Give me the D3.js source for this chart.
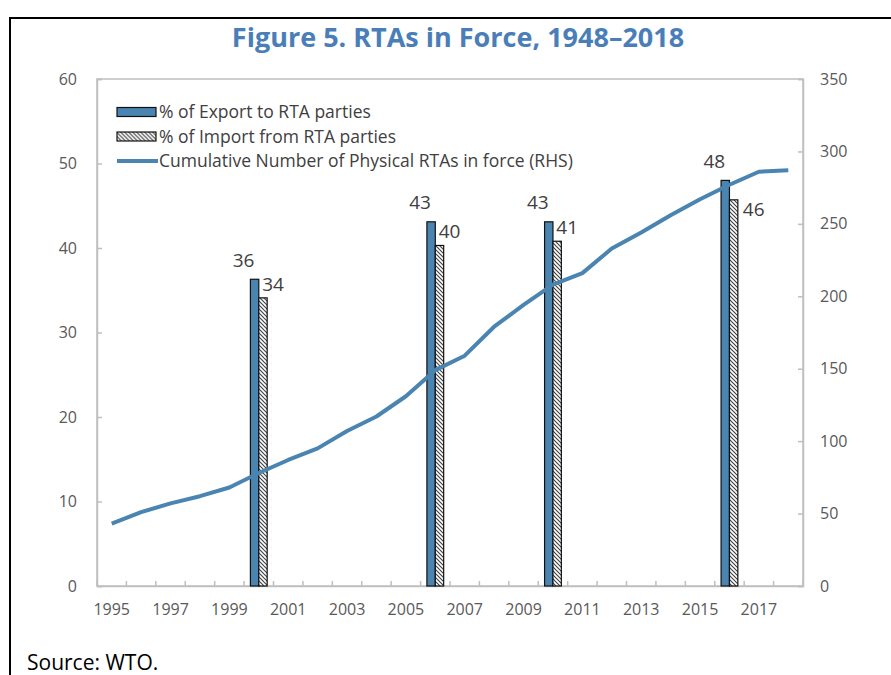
<!DOCTYPE html>
<html>
<head>
<meta charset="utf-8">
<script src="https://cdn.jsdelivr.net/npm/d3@7"></script>
<style>
  body { margin: 0; background: #fff; }
  text { font-family: "Open Sans", "Noto Sans", sans-serif; }
</style>
</head>
<body>
<div id="chart"></div>
<script>
// data
const years = d3.range(1995, 2019).map(String)
const barYears = ["2000", "2006", "2010", "2016"]
const exportShare = [36.3, 43.1, 43.1, 48.0]
const importShare = [34.1, 40.3, 40.8, 45.7]
const exportLabels = ["36", "43", "43", "48"]
const importLabels = ["34", "40", "41", "46"]
const cumulativeRTAs = [43, 51, 57, 62, 68, 78, 87, 95, 107, 117, 131, 149,
                        159, 179, 194, 208, 216, 233, 244, 256, 267, 277, 286, 287]
const leftTicks = [0, 10, 20, 30, 40, 50, 60]
const rightTicks = [0, 50, 100, 150, 200, 250, 300, 350]

const W = 891, H = 675
const margin = {top: 79, right: 88, bottom: 89, left: 97}
const width = W - margin.left - margin.right
const height = H - margin.top - margin.bottom

const blue = "#4a84b0"
const axisGrey = "#bfbfbf"
const tickText = "#595959"

const svg = d3.select("#chart").append("svg")
    .attr("width", W)
    .attr("height", H)

// hatch for the import bars
const defs = svg.append("defs")
const pat = defs.append("pattern")
    .attr("id", "hatch")
    .attr("patternUnits", "userSpaceOnUse")
    .attr("width", 4)
    .attr("height", 4)
pat.append("rect").attr("width", 4).attr("height", 4).attr("fill", "#fff")
pat.append("path")
    .attr("d", "M-1,-1 L5,5 M-1,3 L1,5 M3,-1 L5,1")
    .attr("stroke", "#444")
    .attr("stroke-width", 1.2)

// outer frame (only left and top edges visible)
svg.append("rect")
    .attr("x", 10).attr("y", 18)
    .attr("width", W + 20).attr("height", H + 20)
    .attr("fill", "none")
    .attr("stroke", "#000")
    .attr("stroke-width", 2)

svg.append("text")
    .attr("x", 458)
    .attr("y", 47)
    .attr("text-anchor", "middle")
    .attr("font-size", 27)
    .attr("font-weight", 700)
    .attr("fill", "#4a7eb8")
    .text("Figure 5. RTAs in Force, 1948\u20132018")

const g = svg.append("g")
    .attr("transform", `translate(${margin.left}, ${margin.top})`)

//Escalas
const x = d3.scaleBand()
    .domain(years)
    .range([0, width])
    .padding(0)

const yL = d3.scaleLinear().domain([0, 60]).range([height, 0])
const yR = d3.scaleLinear().domain([0, 350]).range([height, 0])

// plot frame
g.append("rect")
    .attr("width", width)
    .attr("height", height)
    .attr("fill", "none")
    .attr("stroke", axisGrey)
    .attr("stroke-width", 1.5)

//Ejes
const left = g.append("g")
    .call(d3.axisLeft(yL).tickValues(leftTicks).tickSize(-5).tickPadding(20))
const right = g.append("g")
    .attr("transform", `translate(${width}, 0)`)
    .call(d3.axisRight(yR).tickValues(rightTicks).tickSize(-5).tickPadding(17))
const bottom = g.append("g")
    .attr("transform", `translate(0, ${height})`)
    .call(d3.axisBottom(x).tickSize(0).tickPadding(18)
        .tickFormat(d => (+d % 2 === 1) ? d : ""))

;[left, right, bottom].forEach(ax => {
    ax.select(".domain").attr("stroke", axisGrey).attr("stroke-width", 1.5)
    ax.selectAll(".tick line").attr("stroke", axisGrey).attr("stroke-width", 1.5)
    ax.selectAll("text").attr("font-size", 16).attr("fill", tickText)
        .attr("font-family", "'Open Sans', sans-serif")
})

// category boundary ticks on the x axis
g.append("g").selectAll("line")
    .data(years.concat(["end"]))
    .enter()
    .append("line")
    .attr("x1", d => d === "end" ? width : x(d))
    .attr("x2", d => d === "end" ? width : x(d))
    .attr("y1", height)
    .attr("y2", height - 5)
    .attr("stroke", axisGrey)
    .attr("stroke-width", 1.5)

//Barras
const barW = x.bandwidth() * 0.285
const bars = barYears.map((yr, i) => ({
    year: yr, exp: exportShare[i], imp: importShare[i],
    expLabel: exportLabels[i], impLabel: importLabels[i]
}))

g.selectAll("rect.exp")
    .data(bars)
    .enter()
    .append("rect")
    .attr("class", "exp")
    .attr("x", d => x(d.year) + x.bandwidth() / 2 - barW)
    .attr("y", d => yL(d.exp))
    .attr("width", barW)
    .attr("height", d => height - yL(d.exp))
    .attr("fill", blue)
    .attr("stroke", "#111")
    .attr("stroke-width", 1.2)

g.selectAll("rect.imp")
    .data(bars)
    .enter()
    .append("rect")
    .attr("class", "imp")
    .attr("x", d => x(d.year) + x.bandwidth() / 2)
    .attr("y", d => yL(d.imp))
    .attr("width", barW)
    .attr("height", d => height - yL(d.imp))
    .attr("fill", "url(#hatch)")
    .attr("stroke", "#111")
    .attr("stroke-width", 1.2)

// linea acumulada
const line = d3.line()
    .x((d, i) => x(years[i]) + x.bandwidth() / 2)
    .y(d => yR(d))

g.append("path")
    .datum(cumulativeRTAs)
    .attr("d", line)
    .attr("fill", "none")
    .attr("stroke", blue)
    .attr("stroke-width", 4)
    .attr("stroke-linejoin", "round")

//Etiquetas
g.selectAll("text.expLabel")
    .data(bars)
    .enter()
    .append("text")
    .attr("class", "expLabel")
    .attr("x", d => x(d.year) + x.bandwidth() / 2 - barW / 2 - 11)
    .attr("y", d => yL(d.exp) - 19)
    .attr("dy", "0.35em")
    .attr("text-anchor", "middle")
    .attr("font-size", 19)
    .attr("fill", "#404040")
    .text(d => d.expLabel)

// last import label sits beside the bar, below the line
g.selectAll("text.impLabel")
    .data(bars)
    .enter()
    .append("text")
    .attr("class", "impLabel")
    .attr("x", (d, i) => x(d.year) + x.bandwidth() / 2 + barW + (i === bars.length - 1 ? 5 : -5))
    .attr("y", (d, i) => yL(d.imp) + (i === bars.length - 1 ? 10 : -14))
    .attr("dy", "0.35em")
    .attr("font-size", 19)
    .attr("fill", "#404040")
    .text(d => d.impLabel)

//Leyenda
const legend = svg.append("g").attr("transform", "translate(117, 112)")
const legendItems = [
    {name: "% of Export to RTA parties", kind: "exp"},
    {name: "% of Import from RTA parties", kind: "imp"},
    {name: "Cumulative Number of Physical RTAs in force (RHS)", kind: "line"}
]
const li = legend.selectAll("g")
    .data(legendItems)
    .enter()
    .append("g")
    .attr("transform", (d, i) => `translate(0, ${i * 24.5})`)

li.filter(d => d.kind !== "line")
    .append("rect")
    .attr("x", 0).attr("y", -4.5)
    .attr("width", 39).attr("height", 9)
    .attr("fill", d => d.kind === "exp" ? blue : "url(#hatch)")
    .attr("stroke", "#111")
    .attr("stroke-width", 1.2)

li.filter(d => d.kind === "line")
    .append("line")
    .attr("x1", 0).attr("x2", 41)
    .attr("stroke", blue)
    .attr("stroke-width", 4)

li.append("text")
    .attr("x", 42)
    .attr("dy", "0.35em")
    .attr("font-size", 17.5)
    .attr("fill", "#404040")
    .text(d => d.name)

svg.append("text")
    .attr("x", 27)
    .attr("y", 670)
    .attr("font-size", 21)
    .attr("fill", "#000")
    .text("Source: WTO.")
</script>
</body>
</html>
